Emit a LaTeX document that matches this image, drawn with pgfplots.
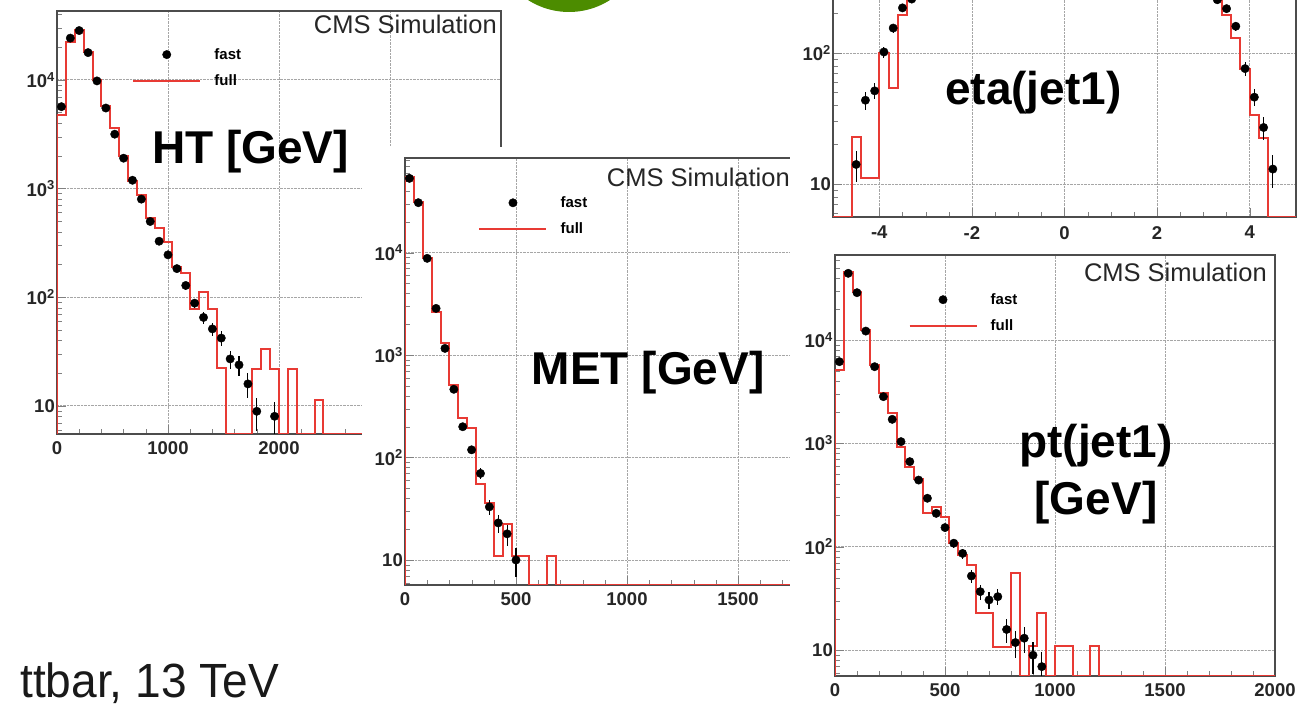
\documentclass[border=0pt]{standalone}
\usepackage{pgfplots}
\pgfplotsset{compat=1.18}
\usepackage{fontspec}
\usepackage{graphicx}
\setmainfont{Liberation Sans}
\definecolor{rootred}{RGB}{232,58,52}
\definecolor{slidegreen}{RGB}{76,140,0}
\pgfplotsset{
  every axis/.append style={
    scale only axis, anchor=south west,
    axis line style={line width=1.4pt, black!70},
    major tick length=9pt, minor tick length=5pt,
    tick align=inside, tick pos=left,
    xmajorgrids, ymajorgrids,
    major grid style={densely dotted, black!35, line width=0.8pt},
    tick label style={font=\fontsize{18.5}{18.5}\selectfont\bfseries, black!85},
    ytick={10,100,1000,10000},
    yticklabels={10,10\textsuperscript{2},10\textsuperscript{3},10\textsuperscript{4}},
    minor ytick={2,3,4,5,6,7,8,9,20,30,40,50,60,70,80,90,200,300,400,500,600,700,800,900,2000,3000,4000,5000,6000,7000,8000,9000,20000,30000,40000,50000,60000,70000,80000,90000},
    yticklabel style={inner sep=2pt},
    xticklabel style={inner sep=7pt},
    legend cell align=left,
    legend style={draw=none, fill=none, anchor=north west,
      font=\fontsize{15}{15}\selectfont\bfseries, row sep=14pt,
      inner sep=0pt, nodes={inner sep=0pt}},
  },
  fullstyle/.style={rootred, line width=2pt, const plot mark left, no marks},
  faststyle/.style={black, only marks, mark=*, mark size=4.2pt,
    error bars/y dir=both, error bars/y explicit,
    error bars/error bar style={line width=1.1pt, black}, error bars/error mark=none},
  fastleg/.style={black, legend image code/.code={\path (0pt,0pt) (81pt,0pt); \fill[black] plot[mark=*, mark size=4.2pt, only marks] coordinates {(33.5pt,0pt)};}},
  fullleg/.style={rootred, legend image code/.code={\draw[rootred, line width=2pt] (0pt,0pt) -- (67pt,0pt); \path (81pt,0pt);}},
}
\newcommand\fastlegend{%
  \addlegendimage{fastleg}
  \addlegendentry{fast}
  \addlegendimage{fullleg}
  \addlegendentry{full}}
\begin{document}
\begin{tikzpicture}
\useasboundingbox (0pt,0pt) rectangle (1301pt,709pt);
\clip (0pt,0pt) rectangle (1301pt,709pt);
\fill[slidegreen] (569pt,773pt) circle (76pt);

% ---------------- HT panel ----------------
\begin{semilogyaxis}[at={(57pt,275pt)}, width=444pt, height=423pt,
  xmin=0, xmax=4000, ymin=5.5, ymax=43000,
  xtick={0,1000,2000,3000,4000}, xticklabels={0,1000,2000,{},{}},
  minor x tick num=4,
  legend style={at={(0.169,0.912)}}]
\fastlegend
\addplot[fullstyle] coordinates {(0,5.5) (0,4750) (80,22400) (160,28800) (240,18000) (320,10000) (400,5700) (480,3600) (560,1970) (640,1160) (720,873) (800,533) (880,432) (960,325) (1040,191) (1120,168) (1200,77.6) (1280,111) (1360,77.6) (1440,22.2) (1520,5.5) (1760,22) (1840,33.3) (1920,22) (2000,5.5) (2080,22) (2160,5.5) (2320,11.4) (2400,5.5) (4000,5.5)};
\addplot[faststyle] table[x=x, y=y, y error=e, row sep=\\] {x y e\\
40 5660 75\\ 120 24200 156\\ 200 28400 169\\ 280 17800 133\\ 360 9770 99\\ 440 5500 74\\ 520 3160 56\\ 600 1900 44\\ 680 1190 34\\ 760 798 28\\ 840 497 22\\ 920 327 18\\ 1000 245 16\\ 1080 183 14\\ 1160 128 11\\ 1240 88 9\\ 1320 65 8\\ 1400 51 7\\ 1480 42 6.5\\ 1560 27 5.2\\ 1640 23.8 4.9\\ 1720 15.9 4\\ 1800 8.9 3\\ 1960 8.0 2.8\\
};
\end{semilogyaxis}
\node[anchor=base east, inner sep=0pt, font=\fontsize{25.5}{25.5}\selectfont, black!85] at (497pt,675pt) {CMS Simulation};

% ---------------- MET panel ----------------
\fill[white] (362pt,84pt) rectangle (790pt,562pt);
\begin{semilogyaxis}[at={(405pt,124pt)}, width=444pt, height=427pt,
  xmin=0, xmax=2000, ymin=5.7, ymax=84100,
  xtick={0,500,1000,1500,2000}, xticklabels={0,500,1000,1500,{}},
  minor x tick num=4,
  legend style={at={(0.165,0.910)}}]
\fastlegend
\addplot[fullstyle] coordinates {(0,5.7) (0,55200) (40,31500) (80,8900) (120,2655) (160,1303) (200,511) (240,242) (280,193) (320,54.8) (360,35.7) (400,10.9) (440,22.3) (480,11) (560,5.7) (640,11) (680,5.7) (2000,5.7)};
\addplot[faststyle] table[x=x, y=y, y error=e, row sep=\\] {x y e\\
20 53200 230\\ 60 30800 175\\ 100 8810 94\\ 140 2860 53\\ 180 1164 34\\ 220 464 22\\ 260 200 14\\ 300 119 11\\ 340 70 8.4\\ 380 33 5.7\\ 420 23 4.8\\ 460 18 4.2\\ 500 10 3.2\\
};
\end{semilogyaxis}
\node[anchor=base east, inner sep=0pt, font=\fontsize{25.5}{25.5}\selectfont, black!85] at (790pt,522pt) {CMS Simulation};

% ---------------- right side ----------------
\fill[white] (790pt,0pt) rectangle (1301pt,709pt);
% eta panel
\begin{semilogyaxis}[at={(833pt,492pt)}, width=463pt, height=504.6pt,
  xmin=-5, xmax=5, ymin=5.6, ymax=39810,
  ytick={10,100}, yticklabels={10,10\textsuperscript{2}},
  xtick={-4,-2,0,2,4}, xticklabels={-4,-2,0,2,4},
  xticklabel style={inner sep=9pt},
  minor x tick num=3]
\addplot[fullstyle] coordinates {(-5,5.6) (-4.6,22.7) (-4.4,11.2) (-4.0,100) (-3.8,54) (-3.6,194) (-3.4,290) (-3.2,420) (-3.0,600) (-2.8,800) (-2.6,1100) (-2.4,1500) (-2.2,1900) (-2.0,2300) (-1.8,2700) (-1.6,3100) (-1.4,3400) (-1.2,3700) (-1.0,3900) (-0.8,4100) (-0.6,4200) (-0.4,4300) (-0.2,4300) (0,4300) (0.2,4300) (0.4,4200) (0.6,4100) (0.8,3900) (1.0,3700) (1.2,3400) (1.4,3100) (1.6,2700) (1.8,2300) (2.0,1900) (2.2,1500) (2.4,1100) (2.6,800) (2.8,600) (3.0,420) (3.2,290) (3.4,194) (3.6,131) (3.8,76) (4.0,33.5) (4.2,22.3) (4.4,5.6) (5,5.6)};
\addplot[faststyle] table[x=x, y=y, y error=e, row sep=\\] {x y e\\
-4.5 14.1 3.8\\ -4.3 43.6 6.6\\ -4.1 51.4 7.2\\ -3.9 101.8 10\\ -3.7 155 12\\ -3.5 221 15\\ -3.3 258 16\\ -3.1 400 20\\ -2.9 580 24\\ -2.7 800 28\\ -2.5 1100 33\\ -2.3 1500 39\\ -2.1 1900 44\\ -1.9 2300 48\\ -1.7 2700 52\\ -1.5 3100 56\\ -1.3 3400 58\\ -1.1 3700 61\\ -0.9 3900 62\\ -0.7 4100 64\\ -0.5 4200 65\\ -0.3 4300 66\\ -0.1 4300 66\\ 0.1 4300 66\\ 0.3 4300 66\\ 0.5 4200 65\\ 0.7 4100 64\\ 0.9 3900 62\\ 1.1 3700 61\\ 1.3 3400 58\\ 1.5 3100 56\\ 1.7 2700 52\\ 1.9 2300 48\\ 2.1 1900 44\\ 2.3 1500 39\\ 2.5 1100 33\\ 2.7 800 28\\ 2.9 580 24\\ 3.1 400 20\\ 3.3 255 16\\ 3.5 218 15\\ 3.7 160 12.6\\ 3.9 76 8.7\\ 4.1 46 6.8\\ 4.3 27 5.2\\ 4.5 13 3.6\\
};
\end{semilogyaxis}

% pt panel
\begin{semilogyaxis}[at={(835pt,33pt)}, width=440pt, height=421pt,
  xmin=0, xmax=2000, ymin=5.6, ymax=66500,
  xtick={0,500,1000,1500,2000}, xticklabels={0,500,1000,1500,2000},
  minor x tick num=4,
  legend style={at={(0.1666,0.909)}}]
\fastlegend
\addplot[fullstyle] coordinates {(0,5.6) (0,5130) (40,45800) (80,29400) (120,12500) (160,5700) (200,3050) (240,1950) (280,929) (320,594) (360,455) (400,210) (440,244) (480,195) (520,108) (560,83) (600,66) (640,22.7) (720,10.8) (800,55) (840,5.6) (880,10.9) (920,22.7) (960,5.6) (1000,10.9) (1080,5.6) (1160,10.9) (1200,5.6) (2000,5.6)};
\addplot[faststyle] table[x=x, y=y, y error=e, row sep=\\] {x y e\\
20 6170 79\\ 60 44200 210\\ 100 28700 169\\ 140 12200 110\\ 180 5520 74\\ 220 2830 53\\ 260 1707 41\\ 300 1038 32\\ 340 665 26\\ 380 441 21\\ 420 294 17\\ 460 210 14.5\\ 500 153 12.4\\ 540 108 10.4\\ 580 86 9.3\\ 620 52 7.2\\ 660 36.7 6\\ 700 30.5 5.5\\ 740 32.8 5.7\\ 780 15.8 4\\ 820 11.8 3.4\\ 860 13 3.6\\ 900 8.9 3\\ 940 6.9 2.6\\
};
\end{semilogyaxis}
\node[anchor=base east, inner sep=0pt, font=\fontsize{25.5}{25.5}\selectfont, black!85] at (1267pt,427pt) {CMS Simulation};

% ---------------- slide labels ----------------
\node[anchor=base west, inner sep=0pt, font=\fontsize{46}{46}\selectfont\bfseries] at (152pt,545pt) {HT [GeV]};
\node[anchor=base west, inner sep=0pt, font=\fontsize{46}{46}\selectfont\bfseries] at (531.7pt,324pt) {MET [GeV]};
\node[anchor=base west, inner sep=0pt, font=\fontsize{46}{46}\selectfont\bfseries] at (945pt,604pt) {eta(jet1)};
\node[anchor=base, inner sep=0pt, font=\fontsize{46}{46}\selectfont\bfseries] at (1096pt,251pt) {pt(jet1)};
\node[anchor=base, inner sep=0pt, font=\fontsize{46}{46}\selectfont\bfseries] at (1096pt,194pt) {[GeV]};
\node[anchor=base west, inner sep=0pt, font=\fontsize{48}{48}\selectfont, black!90] at (20pt,11pt) {\scalebox{0.96}[1]{ttbar, 13 TeV}};
\end{tikzpicture}
\end{document}
